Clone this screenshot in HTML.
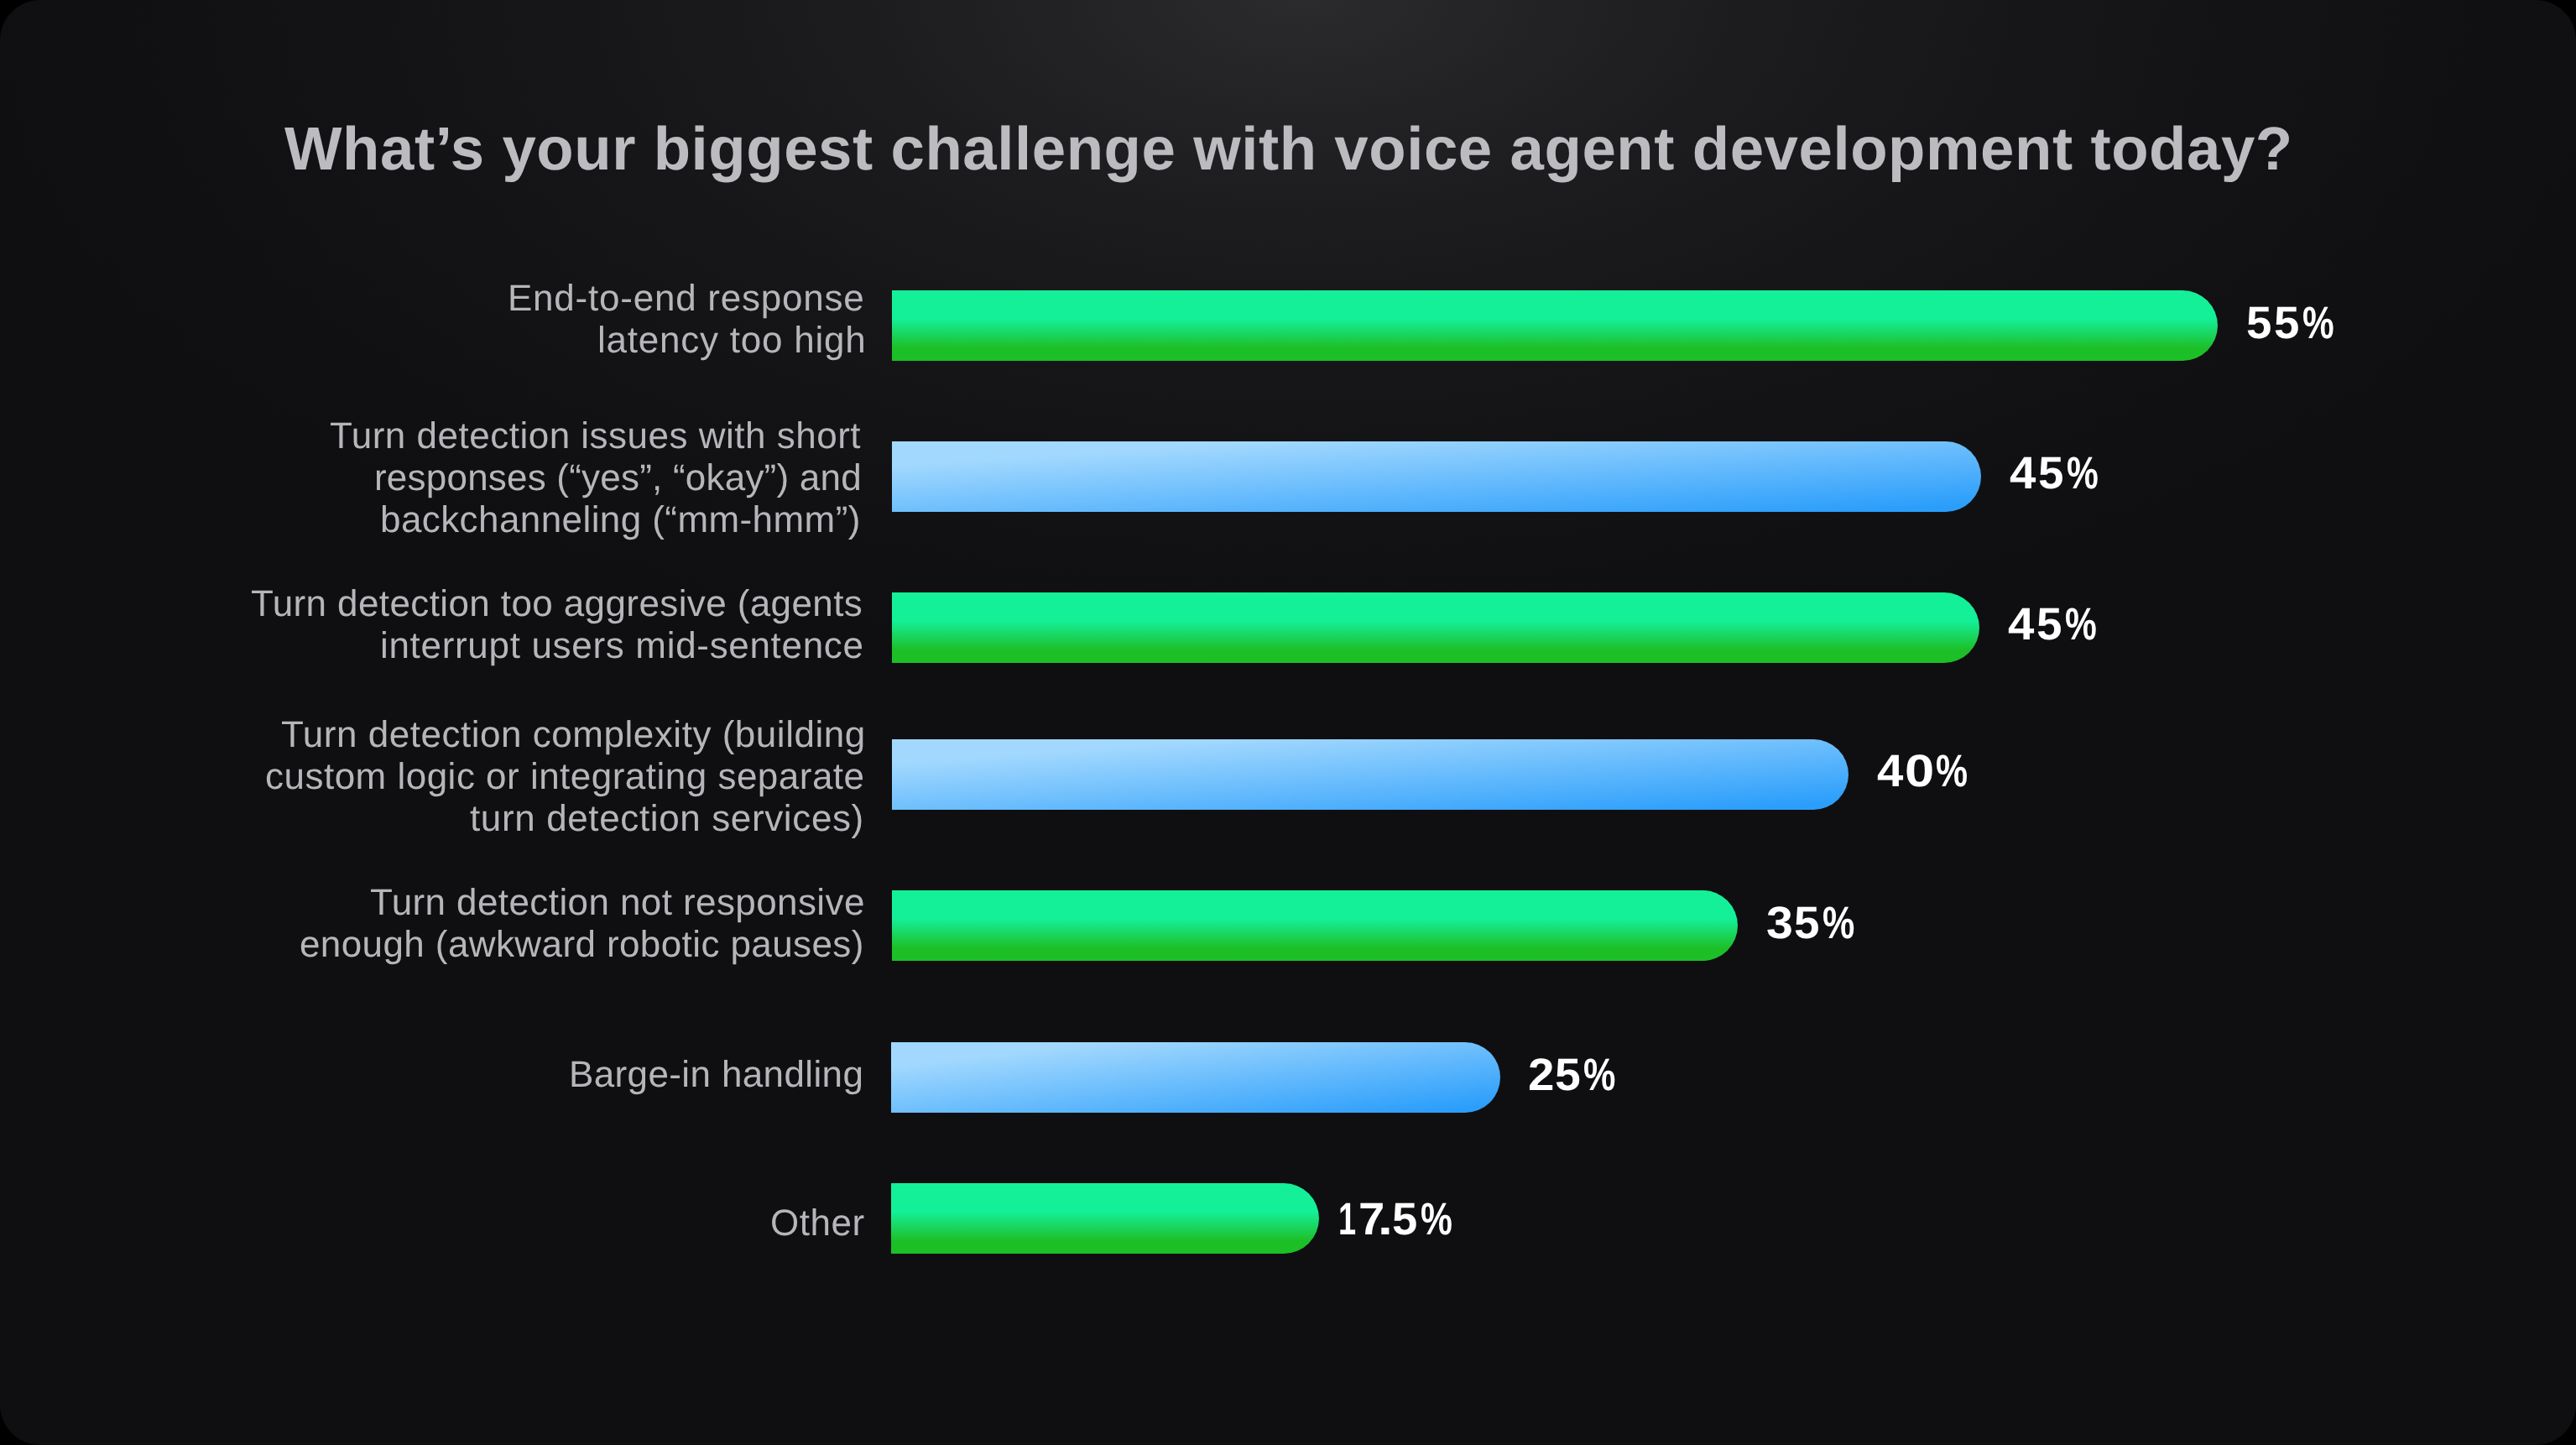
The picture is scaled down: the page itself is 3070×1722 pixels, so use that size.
<!DOCTYPE html>
<html lang="en">
<head>
<meta charset="utf-8">
<title>What's your biggest challenge with voice agent development today?</title>
<style>
html,body{margin:0;padding:0;background:#000;}
html{width:3070px;height:1722px;}
body{width:3070px;height:1722px;position:relative;font-family:"Liberation Sans",sans-serif;}
.card{position:absolute;left:0;top:0;width:3070px;height:1722px;border-radius:48px;overflow:hidden;
 background:radial-gradient(ellipse 1580px 800px at 1552px -6px,#2b2b2d 0%,#232325 17%,#1c1c1e 34%,#161618 56%,#121214 78%,#0f0f11 100%),#0f0f11;}
.t{position:absolute;white-space:nowrap;line-height:1;margin:0;will-change:transform;text-rendering:geometricPrecision;}
.title{font-weight:700;color:#bcbcc0;}
.lab{font-weight:400;color:#b6b6ba;}
.pct{font-weight:700;color:#ffffff;width:220px;height:60px;}
.pct span{position:absolute;top:0;transform-origin:0 0;}
.bar{position:absolute;height:84px;border-radius:0 42px 42px 0;}
.g{background:linear-gradient(to bottom,#14f098 0%,#14f098 40%,#19d864 60%,#1dbf27 82%,#1dbf27 100%);}
.b{background:linear-gradient(to bottom right,#a2d8fe 0%,#a2d8fe 17%,#2b9efb 94%,#2b9efb 100%);}
</style>
</head>
<body>
<div class="card">
<h1 class="t title" style="left:339.40px;top:142.00px;font-size:72.60px;letter-spacing:0.566px">What’s your biggest challenge with voice agent development today?</h1>
<div class="bar g" style="left:1062.5px;top:345.9px;width:1580.5px"></div>
<div class="bar b" style="left:1062.5px;top:525.9px;width:1298.2px"></div>
<div class="bar g" style="left:1062.5px;top:705.5px;width:1296.3px"></div>
<div class="bar b" style="left:1062.5px;top:880.6px;width:1140.5px"></div>
<div class="bar g" style="left:1062.5px;top:1061.3px;width:1008.3px"></div>
<div class="bar b" style="left:1061.8px;top:1241.8px;width:726.1px"></div>
<div class="bar g" style="left:1061.8px;top:1409.8px;width:510.4px"></div>
<div class="t lab" style="left:605.30px;top:334.00px;font-size:44.00px;letter-spacing:0.767px">End-to-end response</div>
<div class="t lab" style="left:711.70px;top:384.00px;font-size:44.00px;letter-spacing:0.773px">latency too high</div>
<div class="t lab" style="left:392.60px;top:498.00px;font-size:44.00px;letter-spacing:0.497px">Turn detection issues with short</div>
<div class="t lab" style="left:446.00px;top:548.00px;font-size:44.00px;letter-spacing:0.214px">responses (“yes”, “okay”) and</div>
<div class="t lab" style="left:452.50px;top:598.00px;font-size:44.00px;letter-spacing:0.417px">backchanneling (“mm-hmm”)</div>
<div class="t lab" style="left:298.80px;top:698.00px;font-size:44.00px;letter-spacing:0.394px">Turn detection too aggresive (agents</div>
<div class="t lab" style="left:452.50px;top:748.00px;font-size:44.00px;letter-spacing:0.681px">interrupt users mid-sentence</div>
<div class="t lab" style="left:334.70px;top:854.00px;font-size:44.00px;letter-spacing:0.529px">Turn detection complexity (building</div>
<div class="t lab" style="left:315.70px;top:904.00px;font-size:44.00px;letter-spacing:0.486px">custom logic or integrating separate</div>
<div class="t lab" style="left:560.00px;top:954.00px;font-size:44.00px;letter-spacing:0.626px">turn detection services)</div>
<div class="t lab" style="left:440.90px;top:1054.00px;font-size:44.00px;letter-spacing:0.407px">Turn detection not responsive</div>
<div class="t lab" style="left:356.70px;top:1104.00px;font-size:44.00px;letter-spacing:0.400px">enough (awkward robotic pauses)</div>
<div class="t lab" style="left:678.00px;top:1259.00px;font-size:44.00px;letter-spacing:0.375px">Barge-in handling</div>
<div class="t lab" style="left:918.20px;top:1436.00px;font-size:44.00px;letter-spacing:0.500px">Other</div>
<div class="t pct" style="left:2669.10px;top:358.00px;font-size:54.00px"><span style="left:8.32px;transform:scaleX(1.0086)">5</span><span style="left:40.72px;transform:scaleX(1.0086)">5</span><span style="left:74.54px;transform:scaleX(0.7846)">%</span></div>
<div class="t pct" style="left:2386.00px;top:537.00px;font-size:54.00px"><span style="left:9.15px;transform:scaleX(1.0441)">4</span><span style="left:43.12px;transform:scaleX(1.0124)">5</span><span style="left:76.94px;transform:scaleX(0.7868)">%</span></div>
<div class="t pct" style="left:2384.10px;top:717.00px;font-size:54.00px"><span style="left:9.15px;transform:scaleX(1.0441)">4</span><span style="left:43.12px;transform:scaleX(1.0124)">5</span><span style="left:76.94px;transform:scaleX(0.7868)">%</span></div>
<div class="t pct" style="left:2227.90px;top:892.00px;font-size:54.00px"><span style="left:9.15px;transform:scaleX(1.0441)">4</span><span style="left:41.80px;transform:scaleX(1.1720)">0</span><span style="left:79.33px;transform:scaleX(0.7934)">%</span></div>
<div class="t pct" style="left:2096.30px;top:1073.00px;font-size:54.00px"><span style="left:8.68px;transform:scaleX(1.0618)">3</span><span style="left:41.72px;transform:scaleX(1.0124)">5</span><span style="left:75.53px;transform:scaleX(0.7979)">%</span></div>
<div class="t pct" style="left:1813.10px;top:1254.00px;font-size:54.00px"><span style="left:8.04px;transform:scaleX(1.0462)">2</span><span style="left:40.10px;transform:scaleX(1.0235)">5</span><span style="left:74.12px;transform:scaleX(0.8001)">%</span></div>
<div class="t pct" style="left:1587.40px;top:1426.00px;font-size:54.00px"><span style="left:7.60px;transform:scaleX(0.7044)">1</span><span style="left:31.78px;transform:scaleX(1.0419)">7</span><span style="left:55.07px;transform:scaleX(1.1811)">.</span><span style="left:72.03px;transform:scaleX(1.0049)">5</span><span style="left:106.14px;transform:scaleX(0.7890)">%</span></div>
</div>
</body>
</html>
